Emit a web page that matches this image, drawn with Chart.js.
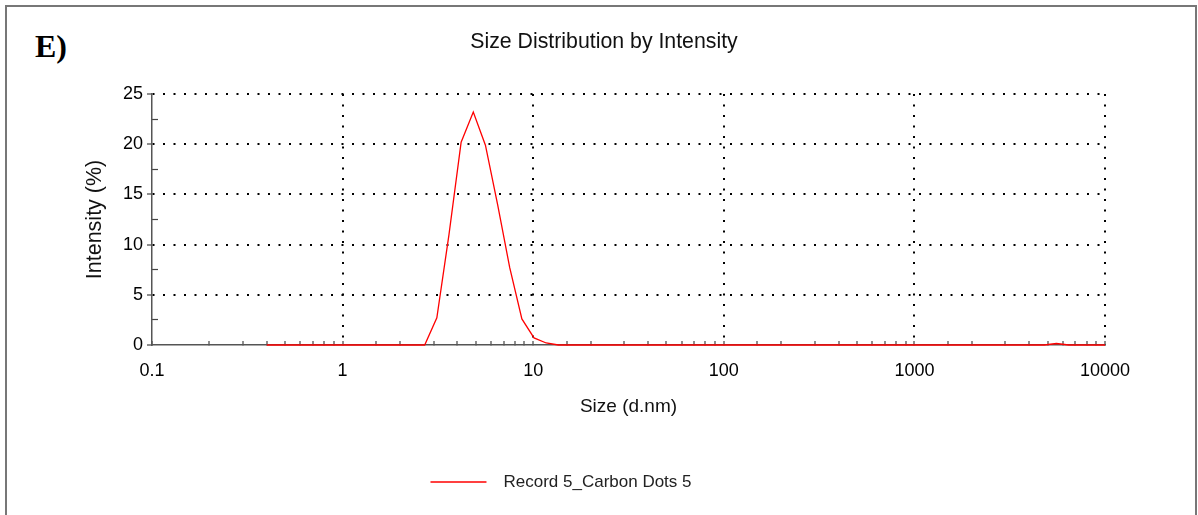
<!DOCTYPE html>
<html>
<head>
<meta charset="utf-8">
<script src="https://cdn.jsdelivr.net/npm/chart.js@4/dist/chart.umd.min.js"></script>
<style>
   html, body { margin: 0; padding: 0; background: #fff; overflow: hidden; }
   #frame {
      position: absolute; left: 5px; top: 5px; width: 1192px; height: 600px;
      box-sizing: border-box; border: 2px solid #777; border-bottom: none;
   }
   #panel {
      position: absolute; left: 35px; top: 30px;
      font-family: "Liberation Serif", "Times New Roman", serif;
      font-weight: bold; font-size: 32px; line-height: 1; color: #000;
   }
   #chart { position: absolute; left: 0; top: 0; }
</style>
</head>
<body>
<div id="frame"></div>
<div id="panel">E)</div>
<canvas id="chart" width="1198" height="515"></canvas>
<script>
// Size bins (d.nm) and intensity (%)
const sizes = [
   0.4, 0.4632, 0.5365, 0.6213, 0.7195, 0.8332, 0.9649, 1.117, 1.294, 1.499,
   1.736, 2.01, 2.328, 2.696, 3.122, 3.615, 4.187, 4.849, 5.615, 6.503,
   7.531, 8.721, 10.1, 11.7, 13.54, 15.69, 18.17, 21.04, 24.36, 28.21,
   32.67, 37.84, 43.82, 50.75, 58.77, 68.06, 78.82, 91.28, 105.7, 122.4,
   141.8, 164.2, 190.1, 220.2, 255.0, 295.3, 342.0, 396.1, 458.7, 531.2,
   615.1, 712.4, 825.0, 955.4, 1106, 1281, 1484, 1718, 1990, 2305,
   2669, 3091, 3580, 4145, 4801, 5560, 6439, 7456, 8635, 10000
];
const intensity = [
   0, 0, 0, 0, 0, 0, 0, 0, 0, 0,
   0, 0, 0, 0, 2.7, 11.0, 20.2, 23.2, 19.9, 14.0,
   7.7, 2.6, 0.7, 0.2, 0, 0, 0, 0, 0, 0,
   0, 0, 0, 0, 0, 0, 0, 0, 0, 0,
   0, 0, 0, 0, 0, 0, 0, 0, 0, 0,
   0, 0, 0, 0, 0, 0, 0, 0, 0, 0,
   0, 0, 0, 0, 0, 0.15, 0, 0, 0, 0
];
const seriesLabel = "Record 5_Carbon Dots 5";
const xTickValues = [0.1, 1, 10, 100, 1000, 10000];
const xTickLabels = ["0.1", "1", "10", "100", "1000", "10000"];
const yMinorTicks = [2.5, 7.5, 12.5, 17.5, 22.5];

const FONT = "'Liberation Sans', Arial, sans-serif";
const isDecade = (v) => Math.abs(Math.log10(v) - Math.round(Math.log10(v))) < 1e-6;

// nudge the legend left, like the original export
const legendShift = {
   id: "legendShift",
   afterLayout(chart) {
      if (chart.legend) {
         chart.legend.left -= 43;
         chart.legend.right -= 43;
      }
   },
};

const ctx = document.getElementById("chart").getContext("2d");
new Chart(ctx, {
   type: "line",
   data: {
      datasets: [
         {
            label: seriesLabel,
            data: sizes.map((s, i) => ({ x: s, y: intensity[i] })),
            borderColor: "#ff0000",
            backgroundColor: "#ff0000",
            borderWidth: 1.3,
            pointRadius: 0,
            tension: 0,
            clip: false,
            xAxisID: "x",
            yAxisID: "y",
         },
      ],
   },
   options: {
      responsive: false,
      animation: false,
      layout: { padding: { left: 10, right: 0, top: 0, bottom: 14.5 } },
      plugins: {
         title: {
            display: true,
            text: "Size Distribution by Intensity",
            color: "#111",
            font: { family: FONT, size: 21.3, weight: "normal" },
            padding: { top: 29.2, bottom: 39.2 },
         },
         legend: {
            position: "bottom",
            labels: {
               usePointStyle: true,
               pointStyle: "line",
               pointStyleWidth: 56,
               color: "#222",
               font: { family: FONT, size: 17 },
               generateLabels: (chart) =>
                  Chart.defaults.plugins.legend.labels.generateLabels(chart).map((l) => ({ ...l, text: "\u2002" + l.text })),
            },
         },
         tooltip: { enabled: false },
      },
      scales: {
         x: {
            type: "logarithmic",
            position: "bottom",
            min: 0.1,
            max: 10000,
            afterFit: (s) => { s.height = 118.5; },
            ticks: {
               autoSkip: false,
               maxRotation: 0,
               padding: 19,
               color: "#000",
               font: { family: FONT, size: 18 },
               callback: (v) => {
                  const i = xTickValues.findIndex((t) => Math.abs(Math.log10(t) - Math.log10(v)) < 1e-6);
                  return i >= 0 ? xTickLabels[i] : "";
               },
            },
            grid: {
               color: (c) => (c.tick && isDecade(c.tick.value) && c.tick.value > 0.11 ? "#000" : "rgba(0,0,0,0)"),
               lineWidth: 2,
               tickLength: -4,
               tickColor: "#444",
               tickWidth: 1.2,
               tickBorderDash: [],
            },
            border: { display: true, color: "#555", width: 1.5, dash: [2, 8.5] },
            title: {
               display: true,
               text: "Size (d.nm)",
               color: "#111",
               font: { family: FONT, size: 19 },
               padding: { top: 0, bottom: 45 },
            },
         },
         y: {
            position: "left",
            weight: 1,
            min: 0,
            max: 25,
            afterFit: (s) => { s.width = 142; },
            ticks: {
               stepSize: 5,
               padding: 4,
               color: "#000",
               font: { family: FONT, size: 18 },
            },
            grid: {
               color: (c) => (c.tick && c.tick.value > 0 ? "#000" : "rgba(0,0,0,0)"),
               lineWidth: 2,
               tickLength: 5,
               tickColor: "#444",
               tickWidth: 1.2,
               tickBorderDash: [],
            },
            border: { display: true, color: "#555", width: 1.5, dash: [2, 8.5] },
            title: {
               display: true,
               text: "Intensity (%)",
               color: "#111",
               font: { family: FONT, size: 21.5 },
               padding: { top: 72.1, bottom: 0 },
            },
         },
         // minor ticks on the inside of the y axis
         yMinor: {
            axis: "y",
            position: "left",
            weight: 0,
            min: 0,
            max: 25,
            afterFit: (s) => { s.width = 0; },
            afterBuildTicks: (s) => { s.ticks = yMinorTicks.map((v) => ({ value: v })); },
            ticks: { display: false },
            grid: {
               drawOnChartArea: false,
               tickLength: -6,
               tickColor: "#444",
               tickWidth: 1.2,
            },
            border: { display: false },
         },
         // empty space to the right of the plot
         yRight: {
            axis: "y",
            position: "right",
            afterFit: (s) => { s.width = 93; },
            ticks: { display: false },
            grid: { display: false },
            border: { display: false },
         },
      },
   },
   plugins: [legendShift],
});
</script>
</body>
</html>
